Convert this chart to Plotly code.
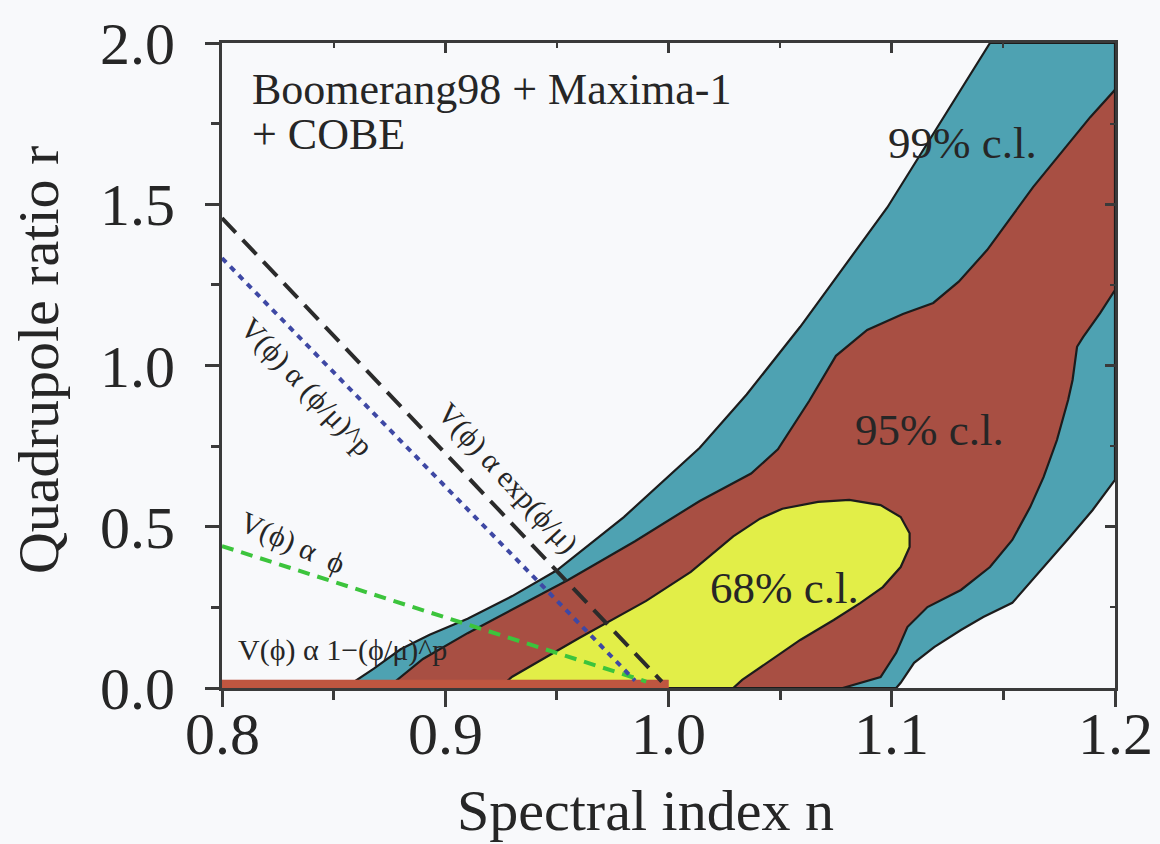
import plotly.graph_objects as go

# Confidence-level contours in the (n, r) plane: outline vertices
c99_n = [0.855, 0.868, 0.880, 0.893, 0.910, 0.930, 0.950, 0.980, 1.014, 1.035, 1.059, 1.098, 1.144,
         1.200, 1.200, 1.190, 1.1786, 1.163, 1.154, 1.141, 1.131, 1.119, 1.110, 1.104, 1.102]
c99_r = [0.000, 0.060, 0.120, 0.165, 0.215, 0.285, 0.365, 0.530, 0.745, 0.910, 1.120, 1.490, 2.000,
         2.000, 0.645, 0.552, 0.459, 0.335, 0.264, 0.220, 0.180, 0.127, 0.078, 0.016, 0.000]

c95_n = [0.874, 0.890, 0.910, 0.955, 0.985, 1.014, 1.037, 1.049, 1.063, 1.075, 1.089, 1.105, 1.1186,
         1.130, 1.1427, 1.1633, 1.1889, 1.200, 1.200, 1.1934, 1.1857, 1.183, 1.181, 1.179, 1.174,
         1.168, 1.162, 1.154, 1.144, 1.131, 1.116, 1.107, 1.102, 1.095, 1.078]
c95_r = [0.000, 0.090, 0.170, 0.335, 0.455, 0.580, 0.665, 0.740, 0.890, 1.030, 1.110, 1.160, 1.194,
         1.260, 1.358, 1.553, 1.770, 1.855, 1.234, 1.163, 1.088, 1.058, 0.955, 0.893, 0.769,
         0.654, 0.561, 0.459, 0.375, 0.304, 0.251, 0.189, 0.109, 0.034, 0.000]

c68_n = [0.924, 0.930, 0.960, 0.990, 1.010, 1.029, 1.041, 1.051, 1.067, 1.081, 1.095, 1.104, 1.108,
         1.108, 1.104, 1.096, 1.086, 1.074, 1.059, 1.044, 1.033, 1.029]
c68_r = [0.000, 0.035, 0.155, 0.270, 0.360, 0.470, 0.525, 0.556, 0.577, 0.583, 0.567, 0.530, 0.480,
         0.437, 0.375, 0.313, 0.264, 0.211, 0.149, 0.078, 0.025, 0.000]

# Small-field models sit at r ~ 0 across this span of n
strip_n = [0.80, 1.00]
strip_r = [0.0, 0.025]

# Model predictions
exp_n = [0.80, 0.997]
exp_r = [1.457, 0.02]
pow_n = [0.80, 0.985]
pow_r = [1.333, 0.023]
lin_n = [0.80, 0.99]
lin_r = [0.44, 0.02]

x_ticks = [0.8, 0.9, 1.0, 1.1, 1.2]
x_labels = ["0.8", "0.9", "1.0", "1.1", "1.2"]
y_ticks = [0.0, 0.5, 1.0, 1.5, 2.0]
y_labels = ["0.0", "0.5", "1.0", "1.5", "2.0"]

SERIF = "Liberation Serif, Times New Roman, serif"
INK = "#262626"
AXIS = "#3a3a3a"
TEAL = "#4ea2b2"
RED = "#a84f43"
YELLOW = "#e2ee48"
BG = "#f8f9fb"

fig = go.Figure()

for n, r, color in [(c99_n, c99_r, TEAL), (c95_n, c95_r, RED), (c68_n, c68_r, YELLOW)]:
    fig.add_trace(go.Scatter(
        x=n + [n[0]], y=r + [r[0]], mode="lines", fill="toself", fillcolor=color,
        line=dict(color="#1c1c1c", width=2.2), hoverinfo="skip", showlegend=False))

fig.add_trace(go.Scatter(
    x=[strip_n[0], strip_n[1], strip_n[1], strip_n[0], strip_n[0]],
    y=[strip_r[0], strip_r[0], strip_r[1], strip_r[1], strip_r[0]],
    mode="lines", fill="toself", fillcolor="#bf5640",
    line=dict(color="#bf5640", width=0.5), hoverinfo="skip", showlegend=False))

fig.add_trace(go.Scatter(x=lin_n, y=lin_r, mode="lines",
                         line=dict(color="#3cc43c", width=4, dash="12px,8px"),
                         hoverinfo="skip", showlegend=False))
fig.add_trace(go.Scatter(x=pow_n, y=pow_r, mode="lines",
                         line=dict(color="#3e48a4", width=4, dash="6px,6px"),
                         hoverinfo="skip", showlegend=False))
fig.add_trace(go.Scatter(x=exp_n, y=exp_r, mode="lines",
                         line=dict(color="#2b2b2b", width=4, dash="20px,10px"),
                         hoverinfo="skip", showlegend=False))

# mirror axes on top/right with inward ticks
fig.add_trace(go.Scatter(x=[None], y=[None], xaxis="x2", yaxis="y2",
                         hoverinfo="skip", showlegend=False))

axis_common = dict(showgrid=False, zeroline=False, showline=True, linewidth=3,
                   linecolor=AXIS, tickcolor=AXIS, tickwidth=3)

fig.update_layout(
    width=1160, height=844,
    margin=dict(l=222, r=45, t=43, b=156),
    paper_bgcolor=BG, plot_bgcolor=BG,
    showlegend=False,
    xaxis=dict(range=[0.8, 1.2], tickvals=x_ticks, showticklabels=False,
               ticks="outside", ticklen=16,
               minor=dict(dtick=0.05, ticks="outside", ticklen=9, tickwidth=3, tickcolor=AXIS),
               **axis_common),
    yaxis=dict(range=[0.0, 2.0], tickvals=y_ticks, ticktext=y_labels,
               ticks="outside", ticklen=14, ticklabelstandoff=18,
               minor=dict(dtick=0.25, ticks="outside", ticklen=8, tickwidth=3, tickcolor=AXIS),
               tickfont=dict(family=SERIF, size=60, color=INK), **axis_common),
    xaxis2=dict(range=[0.8, 1.2], overlaying="x", side="top", tickvals=x_ticks,
                ticks="inside", ticklen=10, showticklabels=False,
                minor=dict(dtick=0.05, ticks="inside", ticklen=5, tickwidth=2, tickcolor=AXIS),
                **axis_common),
    yaxis2=dict(range=[0.0, 2.0], overlaying="y", side="right", tickvals=y_ticks,
                ticks="inside", ticklen=10, showticklabels=False,
                minor=dict(dtick=0.25, ticks="inside", ticklen=5, tickwidth=2, tickcolor=AXIS),
                **axis_common),
)

def note(text, x, y, size, angle=0, xanchor="center", xref="x", yref="y"):
    fig.add_annotation(text=text, x=x, y=y, xref=xref, yref=yref, showarrow=False,
                       textangle=angle, xanchor=xanchor, yanchor="middle",
                       font=dict(family=SERIF, size=size, color=INK))

# x tick labels, set close under the axis
for v, lab in zip(x_ticks, x_labels):
    note(lab, v, -0.072, 60, yref="paper")

note("Boomerang98 + Maxima-1", 0.8125, 1.855, 44, xanchor="left")
note("+ COBE", 0.8125, 1.715, 44, xanchor="left")
note("99% c.l.", 1.1315, 1.69, 45)
note("95% c.l.", 1.1168, 0.80, 45)
note("68% c.l.", 1.0518, 0.31, 45)
note("V(ϕ) α exp(ϕ/μ)", 0.928, 0.651, 30, angle=47.5)
note("V(ϕ) α (ϕ/μ)^p", 0.838, 0.933, 30, angle=46.5)
note("V(ϕ) α  ϕ", 0.8318, 0.45, 30, angle=24)
note("V(ϕ) α 1−(ϕ/μ)^p", 0.8538, 0.118, 30)

# axis titles
note("Spectral index n", (645 - 222) / 893, -0.19, 58, xref="paper", yref="paper")
note("Quadrupole ratio r", (38 - 222) / 893, 0.5085, 58, angle=-90, xref="paper", yref="paper")

fig.write_html("out.html")
